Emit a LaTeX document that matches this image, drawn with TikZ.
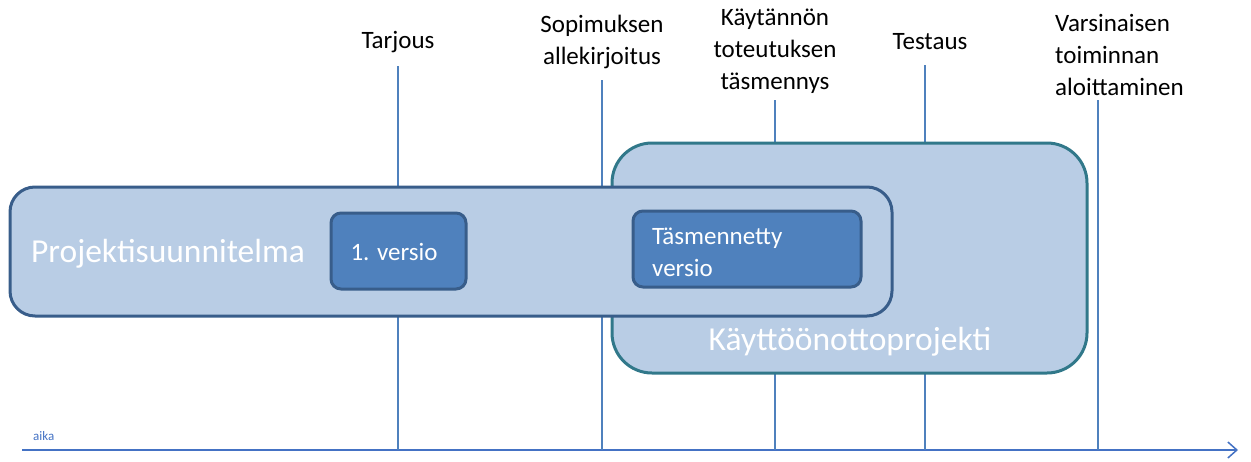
\documentclass[tikz,border=0pt]{standalone}
\usepackage{fontspec}
\setmainfont{Carlito}
\usetikzlibrary{arrows.meta}
\definecolor{fillA}{HTML}{B9CDE5}
\definecolor{edgeA}{HTML}{385D8A}
\definecolor{edgeB}{HTML}{31788A}
\definecolor{innerfill}{HTML}{4F81BD}
\definecolor{lineblue}{HTML}{4F81BD}
\definecolor{axisblue}{HTML}{4472C4}
\tikzset{
  lbl/.style={font=\fontsize{25}{32}\selectfont, align=center, inner sep=0pt, text=black},
  vline/.style={draw=lineblue, line width=1.2pt},
  bigbox/.style={fill=fillA, draw=edgeA, line width=3pt, rounded corners=25pt},
  projbox/.style={fill=fillA, draw=edgeB, line width=3pt, rounded corners=40pt},
  innerbox/.style={fill=innerfill, draw=edgeA, line width=3pt, rounded corners=10pt},
  wtext/.style={text=white, inner sep=0pt},
}
\begin{document}
\begin{tikzpicture}[x=1pt,y=-1pt]
\useasboundingbox (0,0) rectangle (1251,461);
% axis
\coordinate (a0) at (22,450);
\coordinate (a1) at (1238,450);
\draw[axisblue, line width=2pt, -{Straight Barb[length=9pt,width=16pt,line width=1.5pt]}] (a0) -- (a1);
\node[anchor=west, text=axisblue, font=\fontsize{13}{15}\selectfont, inner sep=0pt] (aika) at (33,436) {aika};
% labels
\node[lbl] (tarjous) at (398,42) {Tarjous};
\node[lbl] (sopimus) at (602,42) {Sopimuksen\\allekirjoitus};
\node[lbl] (kaytanto) at (775,51) {Käytännön\\toteutuksen\\täsmennys};
\node[lbl] (testaus) at (930,42) {Testaus};
\node[lbl, align=left, anchor=west] (varsin) at (1055,55) {Varsinaisen\\toiminnan\\aloittaminen};
% tick coordinates
\coordinate (t1) at (398,450);
\coordinate (t2) at (602,450);
\coordinate (t3) at (775,450);
\coordinate (t4) at (925,450);
\coordinate (t5) at (1098,450);
\draw[vline] (398,66) -- (t1);
\draw[vline] (602,80) -- (t2);
\draw[vline] (775,100) -- (t3);
\draw[vline] (925,65) -- (t4);
\draw[vline] (1098,100) -- (t5);
% boxes
\draw[projbox] (612,143) rectangle (1087,373);
\node[wtext, font=\fontsize{33.5}{36}\selectfont] (kayt) at (850,342) {Käyttöönottoprojekti};
\draw[bigbox] (10,187) rectangle (892,316);
\node[wtext, font=\fontsize{33.5}{36}\selectfont] (projekti) at (168,254) {Projektisuunnitelma};
\draw[innerbox] (331,213) rectangle (466,289);
\node[wtext, font=\fontsize{25}{32}\selectfont] (v1) at (394,252) {1. versio};
\draw[innerbox] (633,211) rectangle (861,287);
\node[wtext, font=\fontsize{25}{32}\selectfont, align=left, anchor=west] (v2) at (652,252) {Täsmennetty\\versio};
\end{tikzpicture}
\end{document}
